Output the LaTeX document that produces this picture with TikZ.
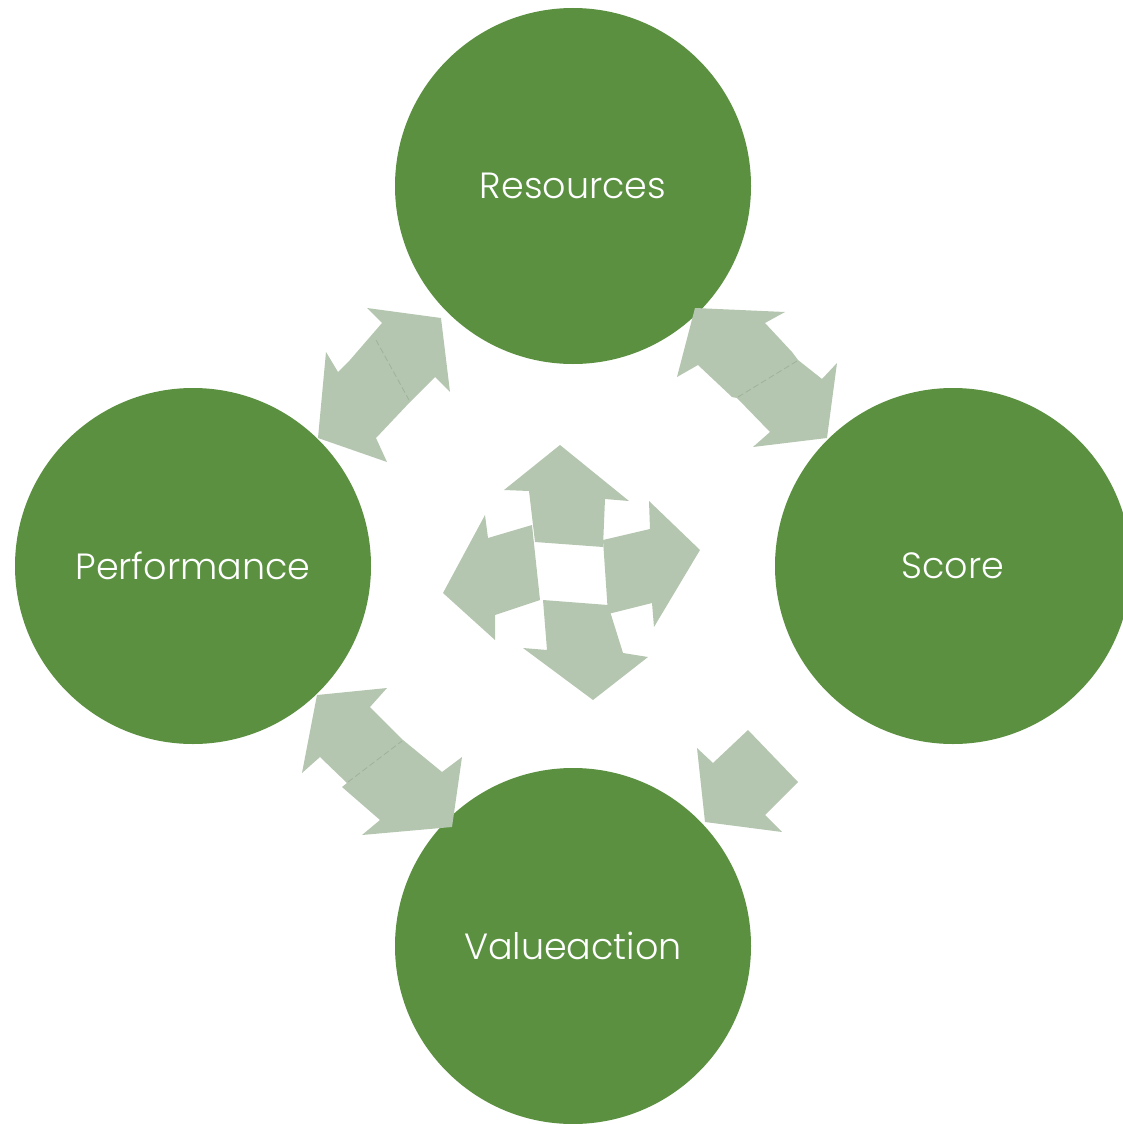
\documentclass[tikz,border=0pt]{standalone}
\usepackage{fontspec}
\setmainfont{Poppins Light}
\definecolor{cgreen}{RGB}{90,144,64}
\definecolor{carrow}{RGB}{180,198,175}
\definecolor{cseam}{RGB}{160,178,155}
\begin{document}
\begin{tikzpicture}[x=1pt,y=-1pt,
  circ/.style={circle,fill=cgreen,minimum size=356pt,inner sep=0pt,text=white,font=\fontsize{36.5}{44}\selectfont},
  arr/.style={fill=carrow,draw=none},
  seam/.style={draw=cseam,line width=0.8pt,dashed,dash pattern=on 6pt off 3pt}]
\useasboundingbox (0,0) rectangle (1122,1124);
% circles
\node[circ] (res) at (573,186) {Resources};
\node[circ] (perf) at (193,566) {Performance};
\node[circ] (score) at (953,566) {Score};
\node[circ] (val) at (573,946) {Valueaction};
% double arrow Performance - Resources
\fill[arr] (441,318) -- (450,392) -- (435,377) -- (410,402) -- (376,438) -- (387,462) -- (318,438) -- (326,352) -- (338,372) -- (350,360) -- (382,323) -- (367,308) -- cycle;
\draw[seam] (376,340) -- (409,400);
% double arrow Resources - Score
\fill[arr] (695,308) -- (785,312) -- (765,323) -- (792,352) -- (798,360) -- (822,379) -- (837,363) -- (827,438) -- (753,447) -- (770,432) -- (737,398) -- (732,397) -- (698,365) -- (677,377) -- cycle;
\draw[seam] (738,397) -- (797,361);
% double arrow Performance - Valueaction
\fill[arr] (317,695) -- (387,688) -- (370,707) -- (403,740) -- (442,772) -- (462,757) -- (452,827) -- (362,835) -- (380,820) -- (342,787) -- (347,783) -- (320,757) -- (302,773) -- cycle;
\draw[seam] (348,782) -- (402,741);
% single arrow Score - Valueaction
\fill[arr] (705,822) -- (697,748) -- (713,763) -- (748,730) -- (798,782) -- (765,815) -- (782,832) -- cycle;
% centre four-way arrow
\fill[arr] (535,542) -- (529,491) -- (504,490) -- (560,445) -- (629,501) -- (605,499) -- (603,547) -- cycle;
\fill[arr] (603,540) -- (650,529) -- (649,501) -- (700,550) -- (654,627) -- (652,603) -- (608,614) -- cycle;
\fill[arr] (543,600) -- (608,605) -- (623,653) -- (648,657) -- (593,700) -- (523,648) -- (547,650) -- cycle;
\fill[arr] (532,525) -- (540,600) -- (495,615) -- (495,640) -- (443,593) -- (485,515) -- (488,538) -- cycle;
\end{tikzpicture}
\end{document}
